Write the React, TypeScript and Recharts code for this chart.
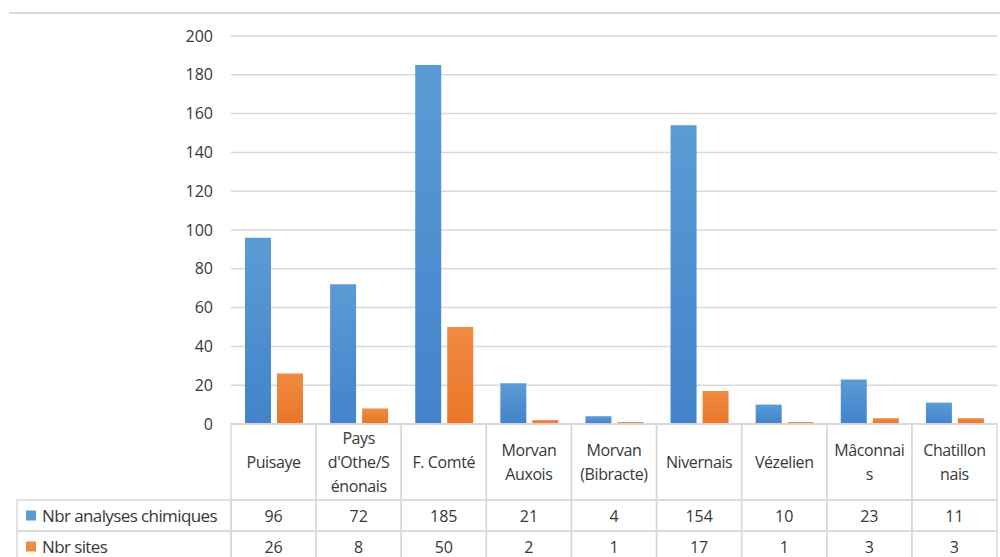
import React from "react";
import { BarChart, Bar, XAxis, YAxis, CartesianGrid } from "recharts";

// Regions as wrapped in the chart's data table
const regions = [
  "Puisaye",
  "Pays\nd'Othe/S\nénonais",
  "F. Comté",
  "Morvan\nAuxois",
  "Morvan\n(Bibracte)",
  "Nivernais",
  "Vézelien",
  "Mâconnai\ns",
  "Chatillon\nnais",
];
const analyses = [96, 72, 185, 21, 4, 154, 10, 23, 11];
const sites = [26, 8, 50, 2, 1, 17, 1, 3, 3];
const yTicks = [0, 20, 40, 60, 80, 100, 120, 140, 160, 180, 200];

const series = [
  { key: "analyses", name: "Nbr analyses chimiques", values: analyses, color: "#5b9bd5", dark: "#4283cb" },
  { key: "sites", name: "Nbr sites", values: sites, color: "#f08a42", dark: "#ea7628" },
];

const data = regions.map((region, i) => ({
  region,
  analyses: analyses[i],
  sites: sites[i],
}));

const W = 1000;
const H = 557;
const PLOT_LEFT = 231;
const PLOT_RIGHT = 997;
const TABLE_TOP = 424;
const HEAD_BOTTOM = 500;
const ROW_H = 31;
const CELL_W = (PLOT_RIGHT - PLOT_LEFT) / regions.length;
const LEGEND_LEFT = 17;
const FONT = "'Open Sans', sans-serif";
const TEXT = "#383838";
const BORDER = "#d9d9d9";

const TableTick = (props: any) => {
  const { x, payload } = props;
  const i = payload.index;
  const left = x - CELL_W / 2;
  const lines = String(payload.value).split("\n");
  const headMid = (TABLE_TOP + HEAD_BOTTOM) / 2;
  const lineH = 24;
  return (
    <g>
      {i === 0 && (
        <g>
          {series.map((s, r) => {
            const top = HEAD_BOTTOM + r * ROW_H;
            return (
              <g key={s.key}>
                <rect x={LEGEND_LEFT} y={top} width={PLOT_LEFT - LEGEND_LEFT} height={ROW_H} fill="none" stroke={BORDER} strokeWidth={1.5} />
                <rect x={LEGEND_LEFT + 9} y={top + ROW_H / 2 - 5} width={10} height={10} fill={s.color} />
                <text x={LEGEND_LEFT + 25} y={top + ROW_H / 2} dominantBaseline="central" fontSize={17} fill={TEXT} fontFamily={FONT} letterSpacing={-0.6}>
                  {s.name}
                </text>
              </g>
            );
          })}
        </g>
      )}
      <rect x={left} y={TABLE_TOP} width={CELL_W} height={HEAD_BOTTOM - TABLE_TOP} fill="none" stroke={BORDER} strokeWidth={1.5} />
      {lines.map((ln, k) => (
        <text
          key={k}
          x={x}
          y={headMid - ((lines.length - 1) * lineH) / 2 + k * lineH}
          textAnchor="middle"
          dominantBaseline="central"
          fontSize={16}
          fill={TEXT}
          fontFamily={FONT}
          letterSpacing={-0.4}
        >
          {ln}
        </text>
      ))}
      {series.map((s, r) => {
        const top = HEAD_BOTTOM + r * ROW_H;
        return (
          <g key={s.key}>
            <rect x={left} y={top} width={CELL_W} height={ROW_H} fill="none" stroke={BORDER} strokeWidth={1.5} />
            <text x={x} y={top + ROW_H / 2} textAnchor="middle" dominantBaseline="central" fontSize={16} fill={TEXT} fontFamily={FONT}>
              {s.values[i]}
            </text>
          </g>
        );
      })}
    </g>
  );
};

const App: React.FC = () => {
  return (
    <div style={{ position: "absolute", left: 0, top: 0, width: W, height: H, background: "#fff", overflow: "hidden" }}>
      <div style={{ position: "absolute", left: 9, right: 0, top: 12, height: 2, background: BORDER }} />
      <BarChart
        width={W}
        height={H}
        data={data}
        margin={{ top: 36, right: W - PLOT_RIGHT, left: PLOT_LEFT - 60, bottom: 0 }}
        barSize={26}
        barGap={6}
      >
        <defs>
          {series.map((s) => (
            <linearGradient key={s.key} id={`grad-${s.key}`} x1="0" y1="0" x2="0" y2="1">
              <stop offset="0%" stopColor={s.color} />
              <stop offset="100%" stopColor={s.dark} />
            </linearGradient>
          ))}
        </defs>
        <CartesianGrid vertical={false} stroke={BORDER} strokeWidth={1.5} />
        <YAxis
          width={60}
          domain={[0, 200]}
          ticks={yTicks}
          tickLine={false}
          axisLine={false}
          tickMargin={12}
          tick={{ fontSize: 16, fill: TEXT, fontFamily: FONT }}
        />
        <XAxis
          dataKey="region"
          height={H - TABLE_TOP}
          interval={0}
          tickLine={false}
          axisLine={{ stroke: BORDER, strokeWidth: 1.5 }}
          tick={<TableTick />}
        />
        {series.map((s) => (
          <Bar key={s.key} dataKey={s.key} name={s.name} fill={`url(#grad-${s.key})`} isAnimationActive={false} />
        ))}
      </BarChart>
    </div>
  );
};

export default App;
